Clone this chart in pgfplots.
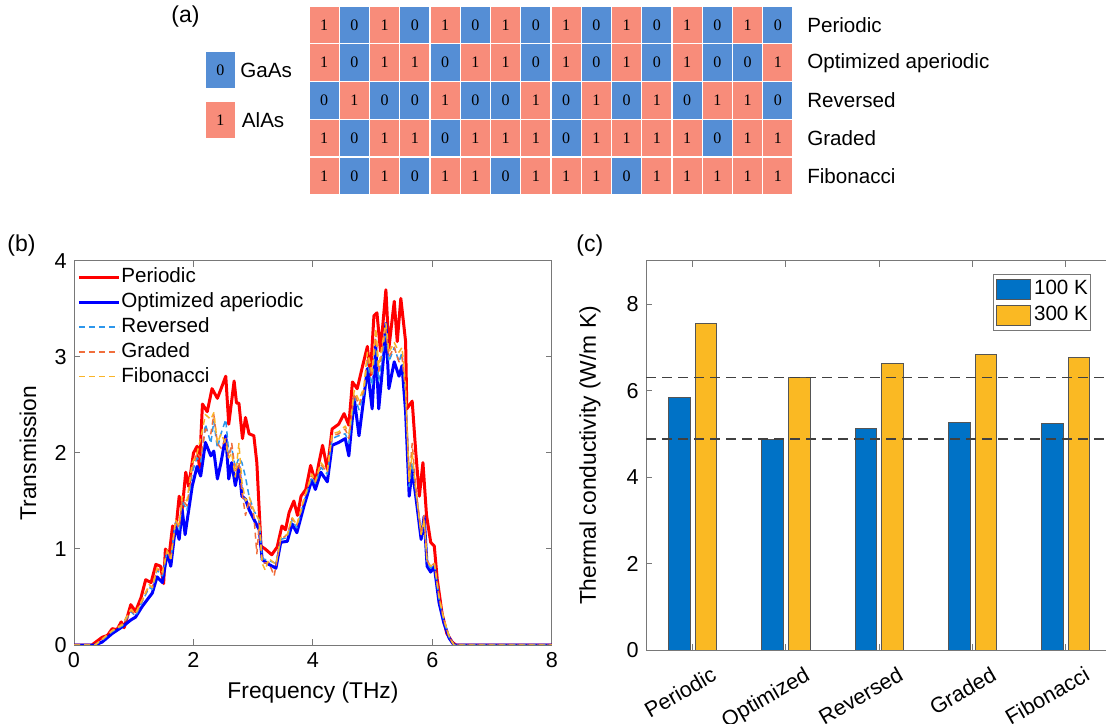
\documentclass[border=0pt]{standalone}
\usepackage{pgfplots}
\pgfplotsset{compat=1.18}
\usepackage{fontspec}
\setmainfont{Liberation Sans}
\newfontfamily\cellfont{Liberation Serif}
\definecolor{gaas}{RGB}{85,142,213}
\definecolor{alas}{RGB}{248,140,122}
\definecolor{bar100}{RGB}{0,114,198}
\definecolor{bar300}{RGB}{250,185,35}
\definecolor{barEdge}{RGB}{85,85,85}
\definecolor{revc}{RGB}{45,150,235}
\definecolor{grac}{RGB}{240,110,60}
\definecolor{fibc}{RGB}{250,180,40}
\definecolor{axc}{RGB}{120,120,120}
\pgfdeclareplotmark{cell}{\pgfpathrectangle{\pgfpoint{-7.5625bp}{-9.45bp}}{\pgfpoint{15.125bp}{18.9bp}}\pgfusepathqfillstroke}
\pgfplotsset{cellnode/.style={nodes near coords align=center,
   every node near coord/.append style={anchor=center,text=black,inner sep=0pt,
     font=\cellfont\fontsize{8bp}{9bp}\selectfont}}}
\begin{document}
\fontsize{10.3bp}{12.4bp}\selectfont
\begin{tikzpicture}
\path[use as bounding box] (0,0) rectangle (553bp,362bp);
% ---------------- (a) ----------------
\node[anchor=west,inner sep=0pt,font=\fontsize{11.5bp}{13bp}\selectfont] at (85.5bp,353.5bp) {(a)};
\begin{axis}[at={(154.5bp,264.5bp)},anchor=south west,scale only axis,
  width=242bp,height=94.5bp,xmin=0.5,xmax=16.5,ymin=0.5,ymax=5.5,
  hide axis,clip=false]
% GaAs cells (0)
\addplot[only marks,mark=cell,mark options={draw=white,fill=gaas,line width=0.7bp},
  cellnode,nodes near coords={0}]
coordinates {
(2,5)(4,5)(6,5)(8,5)(10,5)(12,5)(14,5)(16,5)
(2,4)(5,4)(8,4)(10,4)(12,4)(14,4)(15,4)
(1,3)(3,3)(4,3)(6,3)(7,3)(9,3)(11,3)(13,3)(16,3)
(2,2)(5,2)(9,2)(14,2)
(2,1)(4,1)(7,1)(11,1)
(-2.43,3.807)
};
% AlAs cells (1)
\addplot[only marks,mark=cell,mark options={draw=white,fill=alas,line width=0.7bp},
  cellnode,nodes near coords={1}]
coordinates {
(1,5)(3,5)(5,5)(7,5)(9,5)(11,5)(13,5)(15,5)
(1,4)(3,4)(4,4)(6,4)(7,4)(9,4)(11,4)(13,4)(16,4)
(2,3)(5,3)(8,3)(10,3)(12,3)(14,3)(15,3)
(1,2)(3,2)(4,2)(6,2)(7,2)(8,2)(10,2)(11,2)(12,2)(13,2)(15,2)(16,2)
(1,1)(3,1)(5,1)(6,1)(8,1)(9,1)(10,1)(12,1)(13,1)(14,1)(15,1)(16,1)
(-2.43,2.484)
};
\node[anchor=west,inner sep=0pt] at (axis cs:-1.78,3.807) {GaAs};
\node[anchor=west,inner sep=0pt] at (axis cs:-1.73,2.484) {AlAs};
\node[anchor=west,inner sep=0pt] at (axis cs:16.96,5) {Periodic};
\node[anchor=west,inner sep=0pt] at (axis cs:16.96,4) {Optimized aperiodic};
\node[anchor=west,inner sep=0pt] at (axis cs:16.96,3) {Reversed};
\node[anchor=west,inner sep=0pt] at (axis cs:16.96,2) {Graded};
\node[anchor=west,inner sep=0pt] at (axis cs:16.96,1) {Fibonacci};
\end{axis}
% ---------------- (b) ----------------
\node[anchor=west,inner sep=0pt,font=\fontsize{11.5bp}{13bp}\selectfont] at (3.5bp,239bp) {(b)};
\begin{axis}[at={(37bp,39.5bp)},anchor=south west,scale only axis,
  width=239bp,height=192bp,xmin=0,xmax=8,ymin=0,ymax=4,
  xtick={0,2,4,6,8},ytick={0,1,2,3,4},
  /pgf/number format/assume math mode=true,
  tick label style={font=\fontsize{10.8bp}{12bp}\selectfont,text=black},
  axis line style={axc,line width=0.5bp},
  tick style={axc,line width=0.5bp},major tick length=3bp,
  xlabel={Frequency (THz)},ylabel={Transmission},
  label style={font=\fontsize{11.4bp}{13bp}\selectfont},
  xlabel style={at={(axis description cs:0.5,0)},anchor=center,yshift=-24bp},
  ylabel style={at={(axis description cs:0,0.5)},anchor=center,yshift=23bp},
  legend cell align=left,
  legend style={at={(axis description cs:0,1)},anchor=north west,xshift=1.5bp,yshift=-3.3bp,
     draw=none,fill=none,inner sep=0pt,row sep=2.9bp,/tikz/column sep=0.5bp,
     nodes={inner sep=0pt,text height=7.5bp,text depth=2bp}},
  legend image code/.code={\draw[#1] (0bp,0bp) -- (20bp,0bp);},
  every axis plot/.append style={no markers,line join=round}]
\addplot[red,line width=1.5bp] coordinates {
(0,0)(0.3,0)(0.47,0.08)(0.56,0.1)(0.64,0.17)(0.72,0.16)(0.79,0.24)(0.84,0.18)(0.95,0.42)(1.03,0.35)(1.12,0.49)(1.2,0.68)(1.29,0.65)(1.37,0.84)(1.45,0.82)(1.5,0.64)(1.53,1.0)(1.59,0.92)(1.65,1.24)(1.7,1.17)(1.76,1.55)(1.81,1.41)(1.87,1.8)(1.92,1.65)(2.0,2.0)(2.06,2.07)(2.1,1.85)(2.15,2.51)(2.23,2.43)(2.31,2.67)(2.4,2.57)(2.48,2.7)(2.54,2.8)(2.59,2.3)(2.68,2.75)(2.72,2.52)(2.76,2.52)(2.82,2.15)(2.87,2.37)(2.93,2.2)(3.01,2.18)(3.06,1.9)(3.13,1.03)(3.2,1.0)(3.31,0.94)(3.4,1.02)(3.48,1.24)(3.54,1.2)(3.6,1.38)(3.68,1.5)(3.74,1.35)(3.8,1.55)(3.88,1.62)(3.96,1.87)(4.04,1.7)(4.1,1.9)(4.16,2.08)(4.24,1.83)(4.32,2.25)(4.43,2.3)(4.52,2.41)(4.6,2.29)(4.66,2.74)(4.74,2.67)(4.82,2.88)(4.91,3.11)(4.96,2.81)(5.02,3.43)(5.07,3.46)(5.13,3.06)(5.22,3.7)(5.27,3.09)(5.36,3.58)(5.41,3.16)(5.47,3.61)(5.55,3.16)(5.57,2.46)(5.66,2.54)(5.72,2.01)(5.78,1.55)(5.84,1.9)(5.9,1.35)(5.97,1.07)(6.03,1.03)(6.08,0.68)(6.16,0.33)(6.24,0.12)(6.33,0.03)(6.39,0)(8,0)};
\addlegendentry{Periodic}
\addplot[blue,line width=1.5bp] coordinates {
(0,0)(0.35,0)(0.47,0.03)(0.64,0.12)(0.81,0.19)(0.95,0.26)(1.03,0.29)(1.14,0.4)(1.26,0.5)(1.31,0.54)(1.39,0.71)(1.48,0.65)(1.56,0.96)(1.62,0.82)(1.7,1.24)(1.76,1.1)(1.81,1.41)(1.86,1.15)(1.89,1.28)(1.98,1.66)(2.06,1.86)(2.12,1.76)(2.2,2.11)(2.29,1.97)(2.34,2.02)(2.4,1.73)(2.46,1.9)(2.54,2.18)(2.59,1.73)(2.64,1.9)(2.7,1.66)(2.76,1.86)(2.81,1.55)(2.87,1.52)(2.93,1.41)(3.01,1.31)(3.1,1.2)(3.15,0.89)(3.26,0.84)(3.38,0.8)(3.46,1.07)(3.57,1.08)(3.65,1.26)(3.73,1.17)(3.85,1.45)(3.98,1.72)(4.04,1.62)(4.13,1.8)(4.24,1.7)(4.32,2.08)(4.43,2.11)(4.54,2.15)(4.6,1.97)(4.69,2.57)(4.77,2.18)(4.85,2.57)(4.91,2.88)(4.99,2.46)(5.05,3.12)(5.1,2.46)(5.19,3.06)(5.22,3.35)(5.27,2.67)(5.36,2.95)(5.44,2.8)(5.49,2.91)(5.55,2.43)(5.61,1.55)(5.66,1.83)(5.72,1.55)(5.81,1.1)(5.86,1.34)(5.91,0.82)(5.97,0.76)(6.03,0.82)(6.11,0.44)(6.19,0.23)(6.28,0.07)(6.36,0)(8,0)};
\addlegendentry{Optimized aperiodic}
\addplot[revc,line width=0.75bp,dash pattern=on 3bp off 2bp] coordinates {
(0,0)(0.35,0)(0.47,0.05)(0.64,0.14)(0.81,0.2)(0.95,0.35)(1.03,0.3)(1.14,0.45)(1.26,0.6)(1.31,0.58)(1.39,0.78)(1.48,0.72)(1.56,0.98)(1.62,0.9)(1.7,1.28)(1.76,1.2)(1.81,1.5)(1.89,1.4)(1.98,1.8)(2.06,1.95)(2.12,1.9)(2.2,2.3)(2.29,2.1)(2.34,2.33)(2.4,2.05)(2.46,2.2)(2.54,2.35)(2.59,2.0)(2.64,2.05)(2.7,1.85)(2.76,1.95)(2.81,1.9)(2.87,1.75)(2.93,1.55)(3.01,1.4)(3.1,1.3)(3.15,0.9)(3.26,0.88)(3.38,0.85)(3.46,1.1)(3.57,1.12)(3.65,1.3)(3.73,1.22)(3.85,1.5)(3.98,1.75)(4.04,1.68)(4.13,1.85)(4.24,1.78)(4.32,2.15)(4.43,2.18)(4.54,2.2)(4.6,2.1)(4.69,2.6)(4.77,2.45)(4.85,2.62)(4.91,2.95)(4.99,2.7)(5.05,3.2)(5.1,2.75)(5.19,3.15)(5.22,3.3)(5.27,2.95)(5.36,3.1)(5.44,2.95)(5.49,3.05)(5.55,2.6)(5.61,1.65)(5.66,1.9)(5.72,1.6)(5.81,1.15)(5.86,1.3)(5.91,0.85)(5.97,0.8)(6.03,0.85)(6.11,0.48)(6.19,0.25)(6.28,0.08)(6.36,0)(8,0)};
\addlegendentry{Reversed}
\addplot[grac,line width=0.75bp,dash pattern=on 3bp off 2bp] coordinates {
(0,0)(0.35,0)(0.47,0.06)(0.64,0.15)(0.81,0.22)(0.95,0.36)(1.03,0.32)(1.14,0.46)(1.26,0.62)(1.31,0.6)(1.39,0.8)(1.48,0.74)(1.56,1.0)(1.62,0.88)(1.7,1.3)(1.76,1.22)(1.81,1.52)(1.89,1.45)(1.98,1.85)(2.06,2.0)(2.12,1.95)(2.2,2.25)(2.29,2.2)(2.34,2.4)(2.4,2.1)(2.46,2.05)(2.54,2.15)(2.59,1.95)(2.64,2.1)(2.7,1.8)(2.76,1.9)(2.81,1.6)(2.87,1.35)(2.93,1.5)(3.01,1.35)(3.06,0.95)(3.1,1.25)(3.15,0.85)(3.26,0.86)(3.35,0.72)(3.46,1.1)(3.57,1.15)(3.65,1.32)(3.73,1.25)(3.85,1.52)(3.98,1.78)(4.04,1.7)(4.13,1.88)(4.24,1.8)(4.32,2.18)(4.43,2.2)(4.54,2.25)(4.6,2.15)(4.69,2.62)(4.77,2.5)(4.85,2.65)(4.91,3.0)(4.99,2.8)(5.05,3.25)(5.1,2.85)(5.19,3.2)(5.22,3.28)(5.27,3.0)(5.36,3.1)(5.44,2.95)(5.49,3.0)(5.55,2.65)(5.61,1.7)(5.66,2.1)(5.72,1.65)(5.81,1.15)(5.86,1.35)(5.91,0.88)(5.97,0.82)(6.03,0.85)(6.11,0.5)(6.19,0.26)(6.28,0.08)(6.36,0)(8,0)};
\addlegendentry{Graded}
\addplot[fibc,line width=0.75bp,dash pattern=on 3bp off 2bp] coordinates {
(0,0)(0.35,0)(0.47,0.06)(0.64,0.15)(0.81,0.21)(0.95,0.37)(1.03,0.33)(1.14,0.47)(1.26,0.63)(1.31,0.6)(1.39,0.8)(1.48,0.76)(1.56,0.98)(1.62,0.9)(1.7,1.3)(1.76,1.25)(1.81,1.55)(1.89,1.5)(1.98,1.9)(2.06,2.0)(2.12,2.15)(2.2,2.4)(2.29,2.35)(2.34,2.42)(2.4,2.1)(2.46,2.2)(2.54,2.1)(2.59,1.95)(2.64,2.0)(2.7,1.75)(2.76,2.1)(2.81,1.7)(2.87,1.5)(2.93,1.55)(3.01,1.4)(3.1,1.3)(3.15,0.85)(3.2,0.78)(3.26,0.9)(3.38,0.84)(3.46,1.12)(3.57,1.15)(3.65,1.33)(3.73,1.25)(3.85,1.52)(3.98,1.78)(4.04,1.7)(4.13,1.9)(4.24,1.82)(4.32,2.2)(4.43,2.22)(4.54,2.28)(4.6,2.2)(4.69,2.65)(4.77,2.55)(4.85,2.68)(4.91,3.05)(4.99,2.85)(5.05,3.3)(5.1,2.9)(5.19,3.25)(5.22,3.35)(5.27,3.05)(5.36,3.15)(5.44,3.05)(5.49,3.1)(5.55,2.7)(5.61,1.7)(5.66,2.0)(5.72,1.62)(5.81,1.15)(5.86,1.3)(5.91,0.87)(5.97,0.82)(6.03,0.86)(6.11,0.5)(6.19,0.27)(6.28,0.09)(6.36,0)(8,0)};
\addlegendentry{Fibonacci}
\end{axis}
% ---------------- (c) ----------------
\node[anchor=west,inner sep=0pt,font=\fontsize{11.5bp}{13bp}\selectfont] at (288bp,239bp) {(c)};
\begin{axis}[at={(323bp,37bp)},anchor=south west,scale only axis,
  width=233.25bp,height=194.5bp,xmin=0.5,xmax=5.5,ymin=0,ymax=9,
  xtick={1,2,3,4,5},xticklabels={Periodic,Optimized,Reversed,Graded,Fibonacci},
  ytick={0,2,4,6,8},
  /pgf/number format/assume math mode=true,
  tick label style={font=\fontsize{10.8bp}{12bp}\selectfont,text=black},
  xticklabel style={xshift=10bp,yshift=-3bp,rotate=30,anchor=north east},
  axis line style={axc,line width=0.5bp},
  tick style={axc,line width=0.5bp},major tick length=3bp,
  ylabel={Thermal conductivity (W/m K)},
  label style={font=\fontsize{11.4bp}{13bp}\selectfont},
  ylabel style={at={(axis description cs:0,0.5)},anchor=center,yshift=28bp},
  legend cell align=left,
  legend style={at={(axis description cs:1,1)},anchor=north east,xshift=-10.75bp,yshift=-6.75bp,
     draw=axc,fill=white,line width=0.5bp,inner xsep=1.3bp,inner ysep=2bp,row sep=2.5bp,/tikz/column sep=1.7bp,
     nodes={inner sep=0pt,text height=7.5bp,text depth=2.5bp}}]
\addplot[ybar,bar width=10.8bp,bar shift=-6.65bp,fill=bar100,draw=barEdge,line width=0.5bp,
  legend image code/.code={\draw[fill=bar100,draw=barEdge,line width=0.5bp] (0bp,-5bp) rectangle (17bp,5bp);}]
  coordinates {(1,5.85) (2,4.87) (3,5.13) (4,5.27) (5,5.23)};
\addlegendentry{100 K}
\addplot[ybar,bar width=10.8bp,bar shift=6.65bp,fill=bar300,draw=barEdge,line width=0.5bp,
  legend image code/.code={\draw[fill=bar300,draw=barEdge,line width=0.5bp] (0bp,-5bp) rectangle (17bp,5bp);}]
  coordinates {(1,7.55) (2,6.30) (3,6.62) (4,6.83) (5,6.77)};
\addlegendentry{300 K}
\addplot[sharp plot,no markers,black!75,line width=0.6bp,dash pattern=on 5bp off 3bp,forget plot]
  coordinates {(0.5,6.31) (5.5,6.31)};
\addplot[sharp plot,no markers,black!75,line width=0.6bp,dash pattern=on 5bp off 3bp,forget plot]
  coordinates {(0.5,4.88) (5.5,4.88)};
\end{axis}
\end{tikzpicture}
\end{document}
